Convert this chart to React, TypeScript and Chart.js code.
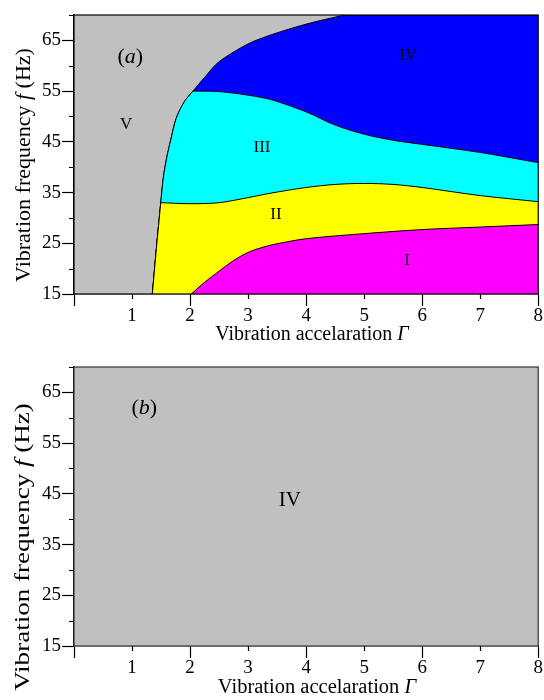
import React, { useEffect, useRef } from "react";
import { Chart, registerables } from "chart.js";

Chart.register(...registerables);

// ---------- axis ranges & ticks ----------
const X_MIN = 0;
const X_MAX = 8;
const Y_MIN = 15;
const Y_MAX = 70;
const xTickLabels = [1, 2, 3, 4, 5, 6, 7, 8];
const xMajorTicks = [0, 2, 4, 6, 8];
const xMinorTicks = [1, 3, 5, 7];
const yTickLabels = [15, 25, 35, 45, 55, 65];
const yMinorTicks = [20, 30, 40, 50, 60, 70];

// ---------- phase boundaries, panel (a): [Γ, f] ----------
const boundaryV_low = [[1.35, 15], [1.42, 24], [1.495, 33]];
const boundaryV_mid = [[1.495, 33], [1.54, 38], [1.6, 42], [1.67, 45.5], [1.76, 49.6], [1.9, 52.9], [2.05, 55]];
const boundaryV_high = [[2.05, 55], [2.25, 57.7], [2.5, 60.8], [3, 64.3], [3.4, 66.1], [4, 68.2], [4.66, 70]];
const boundaryIII_IV = [[2.05, 55], [2.5, 54.9], [3, 54.2], [3.4, 53.3], [4, 50.9], [4.5, 48.3], [5, 46.5], [5.5, 45.3], [6, 44.5], [7, 42.9], [8, 40.9]];
const boundaryII_III = [[1.495, 33], [2, 32.8], [2.5, 33.0], [3, 34.0], [3.4, 34.9], [4, 36.0], [4.5, 36.6], [5, 36.8], [5.5, 36.6], [6, 36.0], [7, 34.4], [8, 33.2]];
const boundaryI_II = [[2.02, 15], [2.25, 17.3], [2.5, 19.5], [2.75, 21.6], [3, 23.2], [3.25, 24.2], [3.5, 24.9], [4, 25.9], [5, 26.9], [6, 27.7], [7, 28.2], [8, 28.7]];

// ---------- colours ----------
const COLOR_V = "#c0c0c0";
const COLOR_IV = "#0000ff";
const COLOR_III = "#00ffff";
const COLOR_II = "#ffff00";
const COLOR_I = "#ff00ff";

// ---------- labels ----------
type Part = [string, boolean];
type Label = { parts: Part[]; x: number; f: number; size: number };

const labelsA: Label[] = [
  { parts: [["(", false], ["a", true], [")", false]], x: 0.97, f: 61.7, size: 22 },
  { parts: [["V", false]], x: 0.9, f: 48.5, size: 17 },
  { parts: [["IV", false]], x: 5.76, f: 62.1, size: 17 },
  { parts: [["III", false]], x: 3.24, f: 43.9, size: 17 },
  { parts: [["II", false]], x: 3.48, f: 30.7, size: 17 },
  { parts: [["I", false]], x: 5.74, f: 21.6, size: 17 },
];
const labelsB: Label[] = [
  { parts: [["(", false], ["b", true], [")", false]], x: 1.21, f: 61.8, size: 22 },
  { parts: [["IV", false]], x: 3.72, f: 43.7, size: 21 },
];

const xTitleParts: Part[] = [["Vibration accelaration ", false], ["Γ", true]];
const yTitleParts: Part[] = [["Vibration frequency ", false], ["f", true], [" (Hz)", false]];

const FONT = '"Liberation Serif", "Times New Roman", serif';

const toPts = (arr: number[][]) => arr.map(([x, y]) => ({ x, y }));
const smoothJoin = (a: number[][], b: number[][]) => [...a, ...b.slice(1)];
const cornerJoin = (a: number[][], b: number[][]) => [...a, ...b];

function drawParts(
  ctx: CanvasRenderingContext2D,
  parts: Part[],
  size: number,
  cx: number,
  cy: number,
  baseline: CanvasTextBaseline
) {
  const fontFor = (it: boolean) => `${it ? "italic " : ""}${size}px ${FONT}`;
  let total = 0;
  const widths = parts.map(([t, it]) => {
    ctx.font = fontFor(it);
    const w = ctx.measureText(t).width;
    total += w;
    return w;
  });
  let x = cx - total / 2;
  ctx.textBaseline = baseline;
  ctx.textAlign = "left";
  ctx.fillStyle = "#000";
  parts.forEach(([t, it], i) => {
    ctx.font = fontFor(it);
    ctx.fillText(t, x, cy);
    x += widths[i];
  });
}

type PanelCfg = {
  height: number;
  padTop: number;
  xAxisHeight: number;
  labels: Label[];
  xTitle: { cx: number; baselineOffset: number; size: number };
  yTitle: { cx: number; cy: number; size: number; stretch: number };
  frameColor: string;
};

const panelPlugin = {
  id: "panelDecor",
  afterDraw(chart: any, _args: any, opts: any) {
    const cfg: PanelCfg = opts.cfg;
    if (!cfg) return;
    const { ctx, chartArea, scales } = chart;
    const xs = scales.x;
    const ys = scales.y;
    ctx.save();
    // frame
    ctx.strokeStyle = cfg.frameColor;
    ctx.lineWidth = 1.2;
    ctx.strokeRect(chartArea.left, chartArea.top, chartArea.right - chartArea.left, chartArea.bottom - chartArea.top);
    // minor ticks
    ctx.strokeStyle = "#000";
    ctx.lineWidth = 1.2;
    ctx.beginPath();
    for (const v of xMinorTicks) {
      const px = Math.round(xs.getPixelForValue(v)) + 0.5;
      ctx.moveTo(px, chartArea.bottom);
      ctx.lineTo(px, chartArea.bottom + 5);
    }
    for (const v of yMinorTicks) {
      const py = Math.round(ys.getPixelForValue(v)) + 0.5;
      ctx.moveTo(chartArea.left, py);
      ctx.lineTo(chartArea.left - 5, py);
    }
    ctx.stroke();
    // region labels
    for (const l of cfg.labels) {
      drawParts(ctx, l.parts, l.size, xs.getPixelForValue(l.x), ys.getPixelForValue(l.f), "middle");
    }
    // x title
    drawParts(ctx, xTitleParts, cfg.xTitle.size, cfg.xTitle.cx, chartArea.bottom + cfg.xTitle.baselineOffset, "alphabetic");
    // y title
    ctx.translate(cfg.yTitle.cx, cfg.yTitle.cy);
    ctx.rotate(-Math.PI / 2);
    ctx.scale(cfg.yTitle.stretch, 1);
    drawParts(ctx, yTitleParts, cfg.yTitle.size, 0, 0, "middle");
    ctx.restore();
  },
};

function buildOptions(cfg: PanelCfg): any {
  const tickFont = { family: FONT, size: 19, lineHeight: 1 };
  return {
    responsive: false,
    animation: false,
    events: [],
    layout: { padding: { left: 0, right: 3.5, top: cfg.padTop, bottom: 0 } },
    elements: {
      point: { radius: 0 },
      line: { tension: 0.3, borderWidth: 1, borderColor: "#000", borderJoinStyle: "round", capBezierPoints: true },
    },
    plugins: {
      legend: { display: false },
      tooltip: { enabled: false },
      filler: { propagate: false },
      panelDecor: { cfg },
    },
    scales: {
      x: {
        type: "linear",
        min: X_MIN,
        max: X_MAX,
        afterFit: (s: any) => {
          s.height = cfg.xAxisHeight;
        },
        ticks: {
          stepSize: 1,
          autoSkip: false,
          maxRotation: 0,
          padding: 1,
          color: "#000",
          font: tickFont,
          callback: (v: number) => (xTickLabels.includes(v) ? String(v) : ""),
        },
        grid: {
          drawOnChartArea: false,
          drawTicks: true,
          tickLength: 12,
          tickWidth: 1.2,
          tickColor: (c: any) => (c.tick && xMajorTicks.includes(c.tick.value) ? "#000" : "rgba(0,0,0,0)"),
        },
        border: { display: true, color: "#000", width: 1.2 },
      },
      y: {
        type: "linear",
        min: Y_MIN,
        max: Y_MAX,
        afterFit: (s: any) => {
          s.width = 74;
        },
        ticks: {
          stepSize: 5,
          autoSkip: false,
          padding: 1,
          color: "#000",
          font: tickFont,
          callback: (v: number) => (yTickLabels.includes(v) ? String(v) : ""),
        },
        grid: {
          drawOnChartArea: false,
          drawTicks: true,
          tickLength: 12,
          tickWidth: 1.2,
          tickColor: (c: any) => (c.tick && yTickLabels.includes(c.tick.value) ? "#000" : "rgba(0,0,0,0)"),
        },
        border: { display: true, color: "#000", width: 1.2 },
      },
    },
  };
}

const topEdge = [[X_MIN, Y_MAX], [X_MAX, Y_MAX]];

function datasetsA() {
  const vLowMid = smoothJoin(boundaryV_low, boundaryV_mid);
  const vFull = smoothJoin(vLowMid, boundaryV_high);
  const blue = cornerJoin(vFull, [vFull[vFull.length - 1], [X_MAX, Y_MAX]]);
  const cyan = cornerJoin(vLowMid, boundaryIII_IV);
  const yellow = cornerJoin(boundaryV_low, boundaryII_III);
  return [
    { label: "I", data: toPts(boundaryI_II), backgroundColor: COLOR_I, fill: "start", order: 0 },
    { label: "II", data: toPts(yellow), backgroundColor: COLOR_II, fill: "start", order: 1 },
    { label: "III", data: toPts(cyan), backgroundColor: COLOR_III, fill: "start", order: 2 },
    { label: "IV", data: toPts(blue), backgroundColor: COLOR_IV, fill: "start", order: 3 },
    { label: "V", data: toPts(topEdge), backgroundColor: COLOR_V, borderWidth: 0, fill: "start", order: 4 },
  ];
}

function datasetsB() {
  return [{ label: "IV", data: toPts(topEdge), backgroundColor: COLOR_V, borderWidth: 0, fill: "start", order: 0 }];
}

const cfgA: PanelCfg = {
  height: 350,
  padTop: 15,
  xAxisHeight: 56,
  labels: labelsA,
  xTitle: { cx: 312, baselineOffset: 46, size: 20 },
  yTitle: { cx: 24, cy: 165, size: 22, stretch: 1 },
  frameColor: "#000",
};
const cfgB: PanelCfg = {
  height: 350,
  padTop: 17,
  xAxisHeight: 54,
  labels: labelsB,
  xTitle: { cx: 317, baselineOffset: 47, size: 20.5 },
  yTitle: { cx: 23, cy: 197, size: 22, stretch: 1.23 },
  frameColor: "#333",
};

function Panel({ cfg, makeData, top }: { cfg: PanelCfg; makeData: () => any[]; top: number }) {
  const ref = useRef<HTMLCanvasElement | null>(null);
  useEffect(() => {
    if (!ref.current) return;
    const chart = new Chart(ref.current, {
      type: "line",
      data: { datasets: makeData() },
      options: buildOptions(cfg),
      plugins: [panelPlugin],
    } as any);
    return () => chart.destroy();
  }, []);
  return (
    <div style={{ position: "absolute", left: 0, top, width: 544, height: cfg.height }}>
      <canvas ref={ref} width={544} height={cfg.height} style={{ display: "block" }} />
    </div>
  );
}

export default function App() {
  return (
    <div style={{ position: "absolute", left: 0, top: 0, width: 544, height: 700, background: "#fff" }}>
      <Panel cfg={cfgA} makeData={datasetsA} top={0} />
      <Panel cfg={cfgB} makeData={datasetsB} top={350} />
    </div>
  );
}
